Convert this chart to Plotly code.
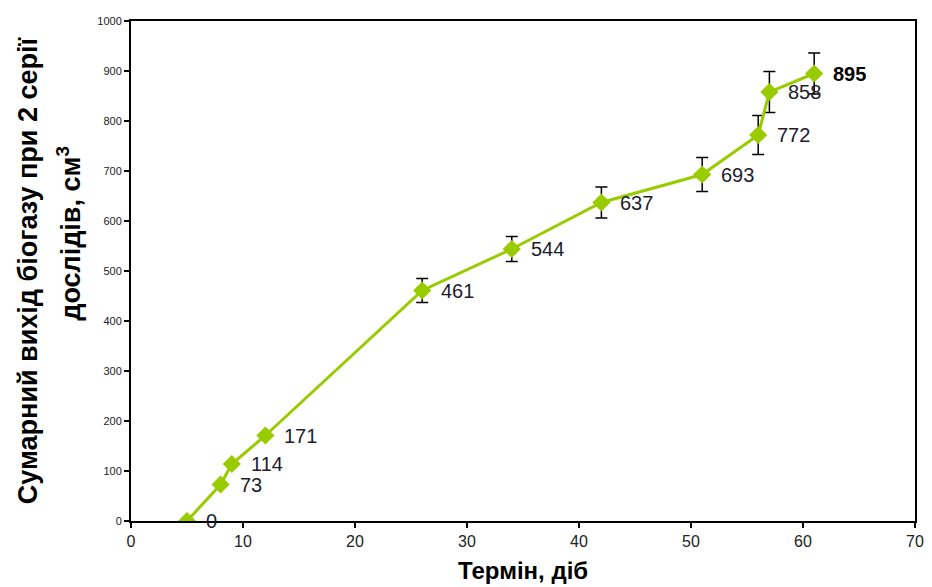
import plotly.graph_objects as go

days = [5, 8, 9, 12, 26, 34, 42, 51, 56, 57, 61]
biogas = [0, 73, 114, 171, 461, 544, 637, 693, 772, 858, 895]
errors = [0, 0, 0, 0, 24, 25, 31, 34, 39, 41, 41]
labels = ["0", "73", "114", "171", "461", "544", "637", "693", "772", "858", "<b>895</b>"]
label_colors = ["#1c1c2c"] * 10 + ["#000000"]

x_ticks = [0, 10, 20, 30, 40, 50, 60, 70]
y_ticks = [0, 100, 200, 300, 400, 500, 600, 700, 800, 900, 1000]

GREEN = "#99CC00"

fig = go.Figure()
fig.add_trace(go.Scatter(
    x=days, y=biogas,
    mode="lines+markers",
    line=dict(color=GREEN, width=3),
    marker=dict(symbol="diamond", size=14, color=GREEN),
    error_y=dict(type="data", array=errors, visible=True, color="black",
                 thickness=1.5, width=6),
    showlegend=False,
))

for xv, yv, t, c in zip(days, biogas, labels, label_colors):
    fig.add_annotation(x=xv, y=yv, text=t, showarrow=False, xanchor="left",
                       yanchor="middle", xshift=17,
                       font=dict(family="Liberation Sans, Arial", size=20, color=c))

PW = 793  # plot width in px (for paper-coordinate placement of titles)
title_font = dict(family="Liberation Sans, Arial", size=27, color="black")
fig.add_annotation(xref="paper", yref="paper", x=(27 - 131) / PW, y=(521 - 270) / 500,
                   text="<b>Сумарний вихід біогазу при 2 серії</b>", textangle=-90,
                   showarrow=False, xanchor="center", yanchor="middle", font=title_font)
fig.add_annotation(xref="paper", yref="paper", x=(68 - 131) / PW, y=(521 - 233) / 500,
                   text="<b>дослідів, см<sup>3</sup></b>", textangle=-90,
                   showarrow=False, xanchor="center", yanchor="middle", font=title_font)
fig.add_annotation(xref="paper", yref="paper", x=0.5, y=(521 - 570) / 500,
                   text="<b>Термін, діб</b>", showarrow=False,
                   xanchor="center", yanchor="middle",
                   font=dict(family="Liberation Sans, Arial", size=24, color="black"))

fig.update_layout(
    width=932, height=587,
    margin=dict(l=131, r=8, t=21, b=66),
    paper_bgcolor="white", plot_bgcolor="white",
    xaxis=dict(range=[0, 70], tickvals=x_ticks, showgrid=False, zeroline=False,
               showline=True, linecolor="black", linewidth=2, mirror=True,
               ticks="outside", ticklen=5, tickcolor="black", tickwidth=1.5,
               tickfont=dict(family="Liberation Sans, Arial", size=16, color="#222")),
    yaxis=dict(range=[0, 1000], tickvals=y_ticks, showgrid=False, zeroline=False,
               showline=True, linecolor="black", linewidth=2, mirror=True,
               ticks="outside", ticklen=5, tickcolor="black", tickwidth=1.5,
               tickfont=dict(family="Liberation Sans, Arial", size=11, color="#222")),
)

fig.write_html(
    "out.html",
    config={"displayModeBar": False, "responsive": False},
    post_script="document.body.style.margin='0';document.body.style.overflow='hidden';",
)
